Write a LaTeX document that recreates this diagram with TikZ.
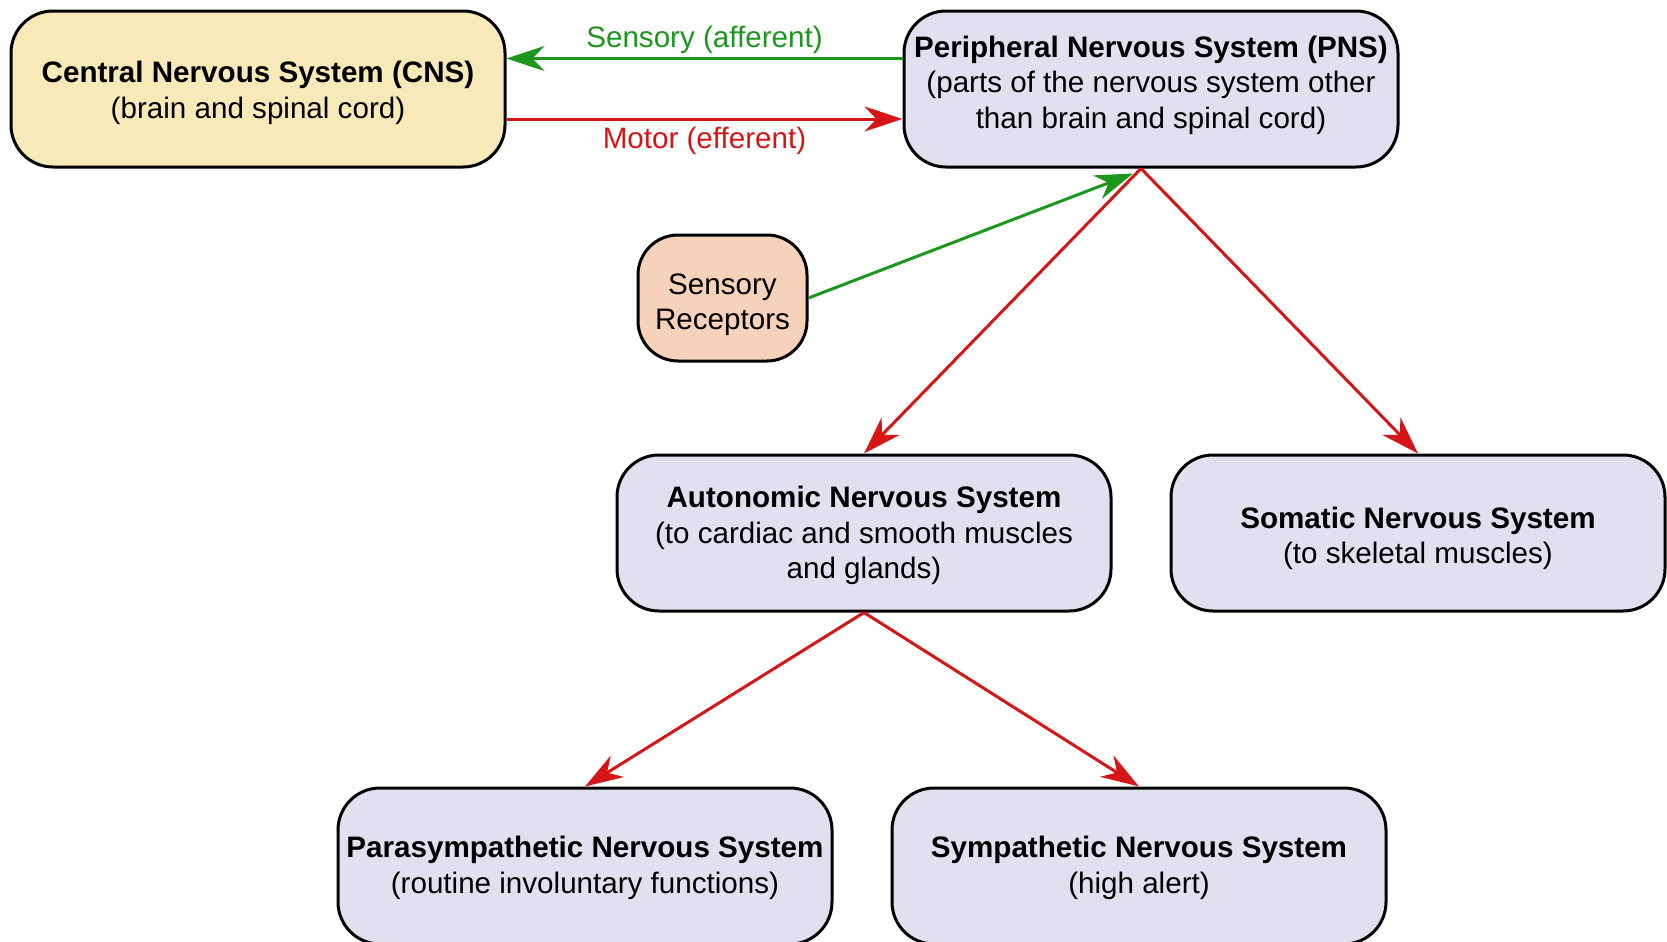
\documentclass[tikz,border=0pt]{standalone}
\usepackage{fontspec}
\setmainfont{Liberation Sans}
\usetikzlibrary{arrows.meta}
\definecolor{cnsfill}{RGB}{248,233,184}
\definecolor{pnsfill}{RGB}{225,224,238}
\definecolor{srfill}{RGB}{246,210,186}
\definecolor{arred}{RGB}{214,22,22}
\definecolor{argreen}{RGB}{28,150,28}
\tikzset{
  box/.style={draw=black, line width=1.5pt, rounded corners=21pt,
    minimum width=247pt, minimum height=78pt, inner sep=0pt},
  srbox/.style={box, minimum width=84.5pt, minimum height=63pt, rounded corners=20pt, fill=srfill},
  txt/.style={align=center, inner sep=0pt, font=\fontsize{14.8}{17.8}\selectfont},
  redarrow/.style={draw=arred, line width=1.5pt, -{Stealth[length=19pt,width=12.5pt,inset=6pt]}},
  greenarrow/.style={draw=argreen, line width=1.5pt, -{Stealth[length=19pt,width=12.5pt,inset=6pt]}},
  lbl/.style={font=\fontsize{14.8}{17.8}\selectfont, inner sep=0pt}
}
\begin{document}
\begin{tikzpicture}[x=0.5pt, y=-0.5pt]
\useasboundingbox[fill=white] (0,0) rectangle (1667,942);
\node[box, fill=cnsfill] (cns) at (258,89) {};
\node[txt, yshift=-1.9pt] (cnsT) at (cns) {\textbf{Central Nervous System (CNS)}\\(brain and spinal cord)};
\node[box, fill=pnsfill] (pns) at (1151,89) {};
\node[txt, yshift=2pt] (pnsT) at (pns) {\textbf{Peripheral Nervous System (PNS)}\\(parts of the nervous system other\\than brain and spinal cord)};
\node[srbox] (sr) at (722.5,298) {};
\node[txt, yshift=-3.3pt] (srT) at (sr) {Sensory\\Receptors};
\node[box, fill=pnsfill] (ans) at (864,533) {};
\node[txt, yshift=-1.3pt] (ansT) at (ans) {\textbf{Autonomic Nervous System}\\(to cardiac and smooth muscles\\and glands)};
\node[box, fill=pnsfill] (sns) at (1418,533) {};
\node[txt, yshift=-2.6pt] (snsT) at (sns) {\textbf{Somatic Nervous System}\\(to skeletal muscles)};
\node[box, fill=pnsfill] (para) at (585,866) {};
\node[txt, yshift=-1pt] (paraT) at (para) {\textbf{Parasympathetic Nervous System}\\(routine involuntary functions)};
\node[box, fill=pnsfill] (symp) at (1139,866) {};
\node[txt, yshift=-1pt] (sympT) at (symp) {\textbf{Sympathetic Nervous System}\\(high alert)};
\coordinate (apex) at ([xshift=-5pt]pns.south);
\coordinate (gtip) at ([xshift=-9pt,yshift=-2.5pt]pns.south);
\draw[greenarrow] ([yshift=15.25pt]pns.west) -- ([yshift=15.25pt]cns.east)
  node[lbl, midway, yshift=9.2pt, text=argreen] (sa) {Sensory (afferent)};
\draw[redarrow] ([yshift=-15pt]cns.east) -- ([yshift=-15pt]pns.west)
  node[lbl, midway, yshift=-11pt, text=arred] (ma) {Motor (efferent)};
\draw[greenarrow] (sr.east) -- (gtip);
\draw[redarrow] (apex) -- (ans.north);
\draw[redarrow] (apex) -- (sns.north);
\draw[redarrow] (ans.south) -- (para.north);
\draw[redarrow] (ans.south) -- (symp.north);
\end{tikzpicture}
\end{document}
